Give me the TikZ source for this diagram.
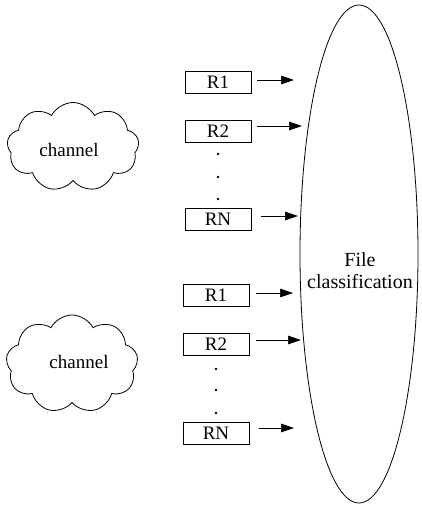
\documentclass[tikz,border=0pt]{standalone}
\usepackage{fontspec}
\setmainfont{Liberation Serif}
\usetikzlibrary{shapes.symbols,shapes.geometric,arrows.meta}
\begin{document}
\begin{tikzpicture}[x=1pt,y=-1pt,
  every node/.style={font=\fontsize{19}{21}\selectfont},
  rbox/.style={draw,line width=0.7pt,minimum width=66pt,minimum height=22pt,inner sep=0pt},
  cloudshape/.style={draw,cloud,cloud puffs=9,cloud puff arc=125,aspect=1.5,line width=0.8pt,inner sep=0pt,minimum width=132pt},
  arr/.style={line width=0.7pt,-{Triangle[length=13pt,width=8.5pt]}},
  dot/.style={circle,fill,inner sep=0pt,minimum size=2.6pt}]
\useasboundingbox (0,0) rectangle (421,513);
% clouds
\node[cloudshape,minimum height=89pt] (c1) at (73,147) {};
\node (t1) at (69,150) {channel};
\node[cloudshape,minimum height=98pt,shape border rotate=10] (c2) at (72,364) {};
\node (t2) at (79,362) {channel};
% ellipse
\node[draw,ellipse,line width=0.8pt,minimum width=118pt,minimum height=498pt,inner sep=0pt] (fc) at (359,254) {};
\node[align=center,font=\fontsize{20}{22}\selectfont] (ft) at (360,271) {File\\classification};
% group 1
\node[rbox] (a1) at (218,82) {R1};
\node[rbox] (a2) at (218,131) {R2};
\node[rbox] (an) at (218,219) {RN};
\node[dot] (ad1) at (218,154) {};
\node[dot] (ad2) at (218,177) {};
\node[dot] (ad3) at (218,199) {};
\coordinate (ea1) at (294,80);
\coordinate (ea2) at (302,126);
\coordinate (ean) at (298,216);
\draw[arr] ([xshift=6pt,yshift=2pt]a1.east) -- (ea1);
\draw[arr] ([xshift=6pt,yshift=5pt]a2.east) -- (ea2);
\draw[arr] ([xshift=10pt,yshift=3pt]an.east) -- (ean);
% group 2
\node[rbox] (b1) at (216,295.5) {R1};
\node[rbox] (b2) at (216,344.5) {R2};
\node[rbox] (bn) at (216,433) {RN};
\node[dot] (bd1) at (216,369) {};
\node[dot] (bd2) at (216,390) {};
\node[dot] (bd3) at (216,413) {};
\coordinate (eb1) at (293,293);
\coordinate (eb2) at (301,340);
\coordinate (ebn) at (294,428);
\draw[arr] ([xshift=7pt,yshift=2.5pt]b1.east) -- (eb1);
\draw[arr] ([xshift=7pt,yshift=4.5pt]b2.east) -- (eb2);
\draw[arr] ([xshift=10pt,yshift=5pt]bn.east) -- (ebn);
\end{tikzpicture}
\end{document}
